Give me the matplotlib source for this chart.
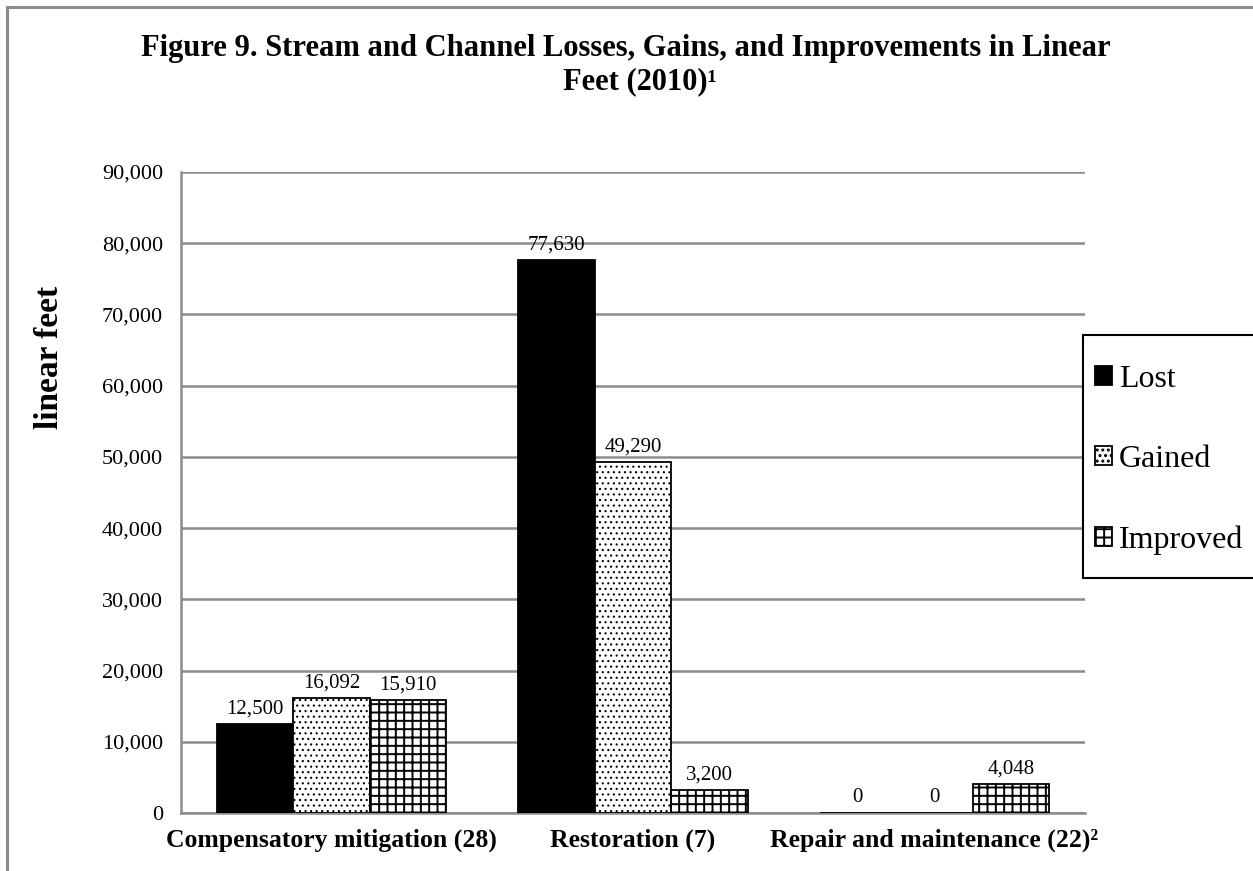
import numpy as np
import matplotlib
matplotlib.use("Agg")
from matplotlib import pyplot as plt
from matplotlib.lines import Line2D
from matplotlib.patches import Rectangle
from matplotlib.ticker import FuncFormatter

plt.rcParams['font.family'] = ['Liberation Serif', 'DejaVu Serif']

categories = ['Compensatory mitigation (28)', 'Restoration (7)', 'Repair and maintenance (22)\u00b2']
series = ['Lost', 'Gained', 'Improved']
lost = [12500, 77630, 0]
gained = [16092, 49290, 0]
improved = [15910, 3200, 4048]
yticks = list(range(0, 90001, 10000))

W, H = 1253, 871
fig = plt.figure(figsize=(W / 100, H / 100), dpi=100)
ax = fig.add_axes([181 / W, 1 - 813 / H, (1085 - 181) / W, (813 - 172) / H])

x = np.arange(len(categories))
bw = 0.254
# face colour, hatch, hatch line width
styles = [('black', None, 1.0), ('white', '...', 0.8), ('white', '++', 1.4)]
handles = []
for i, (name, vals, (fc, hatch, hlw)) in enumerate(zip(series, [lost, gained, improved], styles)):
    plt.rcParams['hatch.linewidth'] = hlw
    bars = ax.bar(x + (i - 1) * bw, vals, bw, label=name, facecolor=fc,
                  edgecolor='black', hatch=hatch, linewidth=1.3, zorder=3)
    ax.bar_label(bars, labels=[f'{v:,}' for v in vals], padding=4, fontsize=15, zorder=4)
    handles.append(bars)

ax.set_xlim(-0.5, 2.5)
ax.set_ylim(0, 90000)
ax.set_yticks(yticks)
ax.yaxis.set_major_formatter(FuncFormatter(lambda v, p: f'{int(v):,}'))
ax.set_xticks(x)
ax.set_xticklabels(categories, fontweight='bold', fontsize=18.5)
ax.tick_params(axis='y', length=0, pad=13, labelsize=16)
ax.tick_params(axis='x', length=0, pad=11)
ax.grid(axis='y', color='#8c8c8c', linewidth=1.8, zorder=0)
for s in ['top', 'right']:
    ax.spines[s].set_visible(False)
for s in ['left', 'bottom']:
    ax.spines[s].set_color('#8c8c8c')
    ax.spines[s].set_linewidth(1.8)

fig.text(50 / W, 1 - 357 / H, 'linear feet', rotation=90, ha='center', va='center',
         fontsize=24, fontweight='bold')

fig.text(626 / W, 1 - 56 / H, 'Figure 9. Stream and Channel Losses, Gains, and Improvements in Linear',
         ha='center', va='baseline', fontsize=22, fontweight='bold')
fig.text(640 / W, 1 - 89 / H, 'Feet (2010)\u00b9', ha='center', va='baseline',
         fontsize=22, fontweight='bold')

# legend box drawn separately so it can overlap the plot area like the original
fig.add_artist(Rectangle((1083 / W, 1 - 578 / H), (1260 - 1083) / W, (578 - 335) / H,
                         transform=fig.transFigure, facecolor='white', edgecolor='black',
                         linewidth=1.5, zorder=5))
leg = fig.legend(handles=handles, labels=series, loc='upper left',
                 bbox_to_anchor=(1095 / W, 1 - 365 / H), fontsize=23, frameon=False,
                 handlelength=0.53, handleheight=0.53, handletextpad=0.22,
                 labelspacing=1.6, borderpad=0, borderaxespad=0)
leg.set_zorder(6)

# outer chart border (only top and left visible in the crop)
fig.add_artist(Line2D([7 / W, 7 / W], [0, 1 - 7 / H], color='#8c8c8c', linewidth=2.2))
fig.add_artist(Line2D([7 / W, 1], [1 - 7 / H, 1 - 7 / H], color='#8c8c8c', linewidth=2.2))

fig.savefig('out.png', dpi=100)
